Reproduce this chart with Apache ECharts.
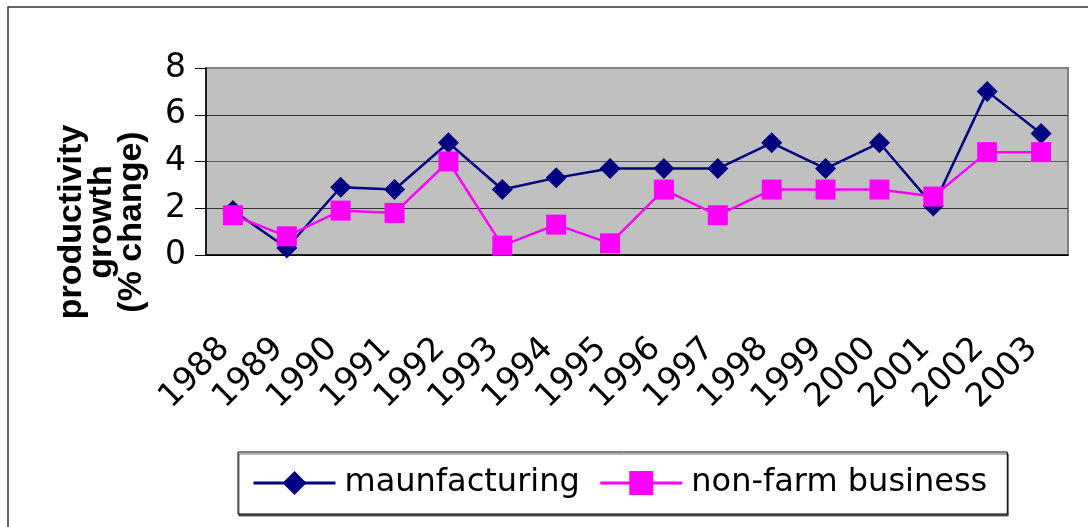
<!DOCTYPE html>
<html lang="en">
<head>
    <meta charset="UTF-8">
    <title>productivity growth</title>
    <script src="https://cdn.jsdelivr.net/npm/echarts@6/dist/echarts.min.js"></script>
    <style>
        html, body { margin: 0; padding: 0; background: #fff; }
        #container { width: 1088px; height: 527px; }
    </style>
</head>
<body>
<div id="container"></div>
<script type="text/javascript">
    // data
    let years = ['1988', '1989', '1990', '1991', '1992', '1993', '1994', '1995',
        '1996', '1997', '1998', '1999', '2000', '2001', '2002', '2003'];
    let manufacturing = [1.9, 0.3, 2.9, 2.8, 4.8, 2.8, 3.3, 3.7, 3.7, 3.7, 4.8, 3.7, 4.8, 2.1, 7.0, 5.2];
    let nonFarm = [1.7, 0.8, 1.9, 1.8, 4.0, 0.4, 1.3, 0.5, 2.8, 1.7, 2.8, 2.8, 2.8, 2.5, 4.4, 4.4];
    let seriesNames = ['maunfacturing', 'non-farm business'];
    let yTitle = 'productivity\ngrowth\n(% change)';

    let font = 'DejaVu Sans';

    let myChart = echarts.init(document.getElementById('container'));
    let option = {
        animation: false,
        backgroundColor: '#fff',
        grid: {
            left: 206, right: 20, top: 68, bottom: 272,
            show: true,
            backgroundColor: '#C0C0C0',
            borderColor: '#808080',
            borderWidth: 2
        },
        xAxis: {
            type: 'category',
            data: years,
            boundaryGap: true,
            axisLine: { lineStyle: { color: '#000', width: 1.5 } },
            axisTick: { length: 11, lineStyle: { color: '#000' } },
            axisLabel: {
                rotate: 45, margin: 80, interval: 0, padding: [0, 12, 0, 0],
                color: '#000', fontFamily: font, fontSize: 33
            }
        },
        yAxis: {
            type: 'value',
            min: 0, max: 8, interval: 2,
            axisLine: { show: true, lineStyle: { color: '#000', width: 1.5 } },
            axisTick: { show: true, length: 11, lineStyle: { color: '#000' } },
            axisLabel: { margin: 20, color: '#000', fontFamily: font, fontSize: 33 },
            splitLine: {
                lineStyle: { color: ['#000', '#333', '#555', '#333', '#808080'], width: 1.2 }
            }
        },
        legend: {
            data: seriesNames,
            left: 238, top: 452,
            padding: [15, 20, 15, 14],
            itemWidth: 82, itemHeight: 30, itemGap: 19,
            borderColor: '#000', borderWidth: 1,
            backgroundColor: '#fff',
            shadowColor: 'rgba(0,0,0,0.6)', shadowOffsetX: 1, shadowOffsetY: 2,
            lineStyle: { width: 3 },
            textStyle: { color: '#000', fontFamily: font, fontSize: 32, padding: [0, 0, 0, 4] }
        },
        graphic: [
            {
                type: 'rect', silent: true,
                shape: { x: 8, y: 7, width: 1100, height: 540 },
                style: { fill: 'none', stroke: '#333', lineWidth: 1.5 }
            },
            {
                type: 'text', silent: true,
                x: 102, y: 222, rotation: Math.PI / 2,
                style: {
                    text: yTitle, align: 'center', verticalAlign: 'middle',
                    font: 'bold 34px "Liberation Sans"', lineHeight: 30, fill: '#000'
                }
            }
        ],
        series: [
            {
                name: seriesNames[0],
                type: 'line',
                data: manufacturing,
                symbol: 'diamond', symbolSize: 21,
                itemStyle: { color: '#000080' },
                lineStyle: { color: '#000080', width: 2.5 }
            },
            {
                name: seriesNames[1],
                type: 'line',
                data: nonFarm,
                symbol: 'rect', symbolSize: 20,
                itemStyle: { color: '#FF00FF' },
                lineStyle: { color: '#FF00FF', width: 2.5 }
            }
        ]
    };
    myChart.setOption(option);
</script>
</body>
</html>
